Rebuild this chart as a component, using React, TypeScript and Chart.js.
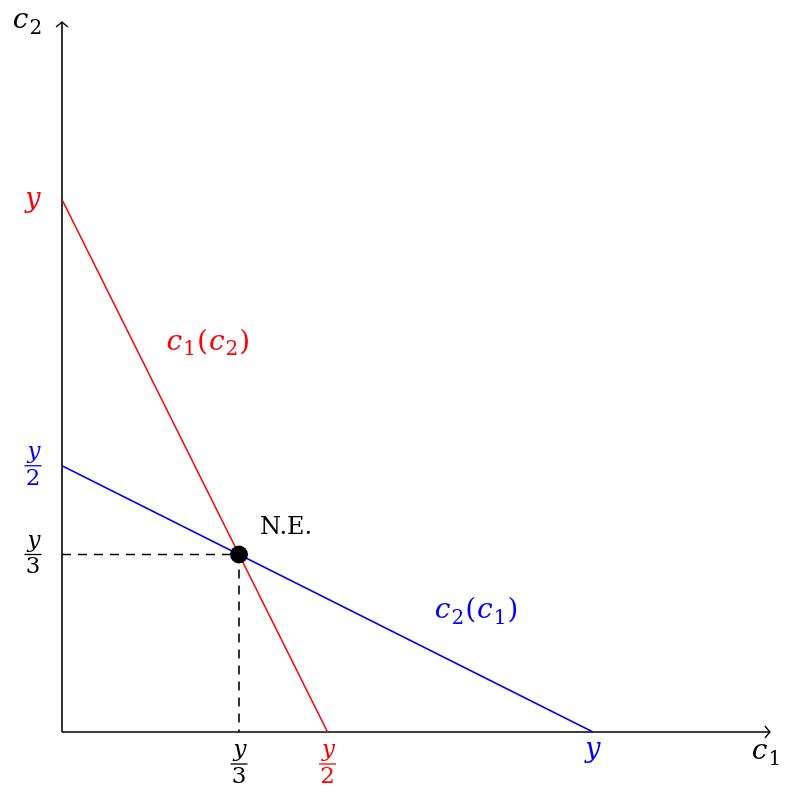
import React, { useEffect, useRef } from "react";
import { Chart, registerables } from "chart.js";

Chart.register(...registerables);

// Values (y = 6 units)
const AXIS_MAX = 8;
const bestResp1X = [0, 3]; // c1(c2): from (0,y) to (y/2,0)
const bestResp1Y = [6, 0];
const bestResp2X = [0, 6]; // c2(c1): from (0,y/2) to (y,0)
const bestResp2Y = [3, 0];
const neX = [2];
const neY = [2];

const RED = "#ff0000";
const BLUE = "#0000ff";
const BLACK = "#000000";

const xTickValues = [2, 3, 6];
const xTickLabels = [["y", "3"], ["y", "2"], ["y"]];
const xTickColors = [BLACK, RED, BLUE];
const yTickValues = [6, 3, 2];
const yTickLabels = [["y"], ["y", "2"], ["y", "3"]];
const yTickColors = [RED, BLUE, BLACK];

const FONT = '"DejaVu Serif", serif';

type Part = { t: string; it?: boolean; sub?: boolean };

function fontFor(p: Part, size: number) {
  return `${p.it ? "italic " : ""}${p.sub ? Math.round(size * 0.72) : size}px ${FONT}`;
}

function measureParts(ctx: CanvasRenderingContext2D, parts: Part[], size: number) {
  let w = 0;
  for (const p of parts) {
    ctx.font = fontFor(p, size);
    w += ctx.measureText(p.t).width + 1;
  }
  return w;
}

function drawParts(ctx: CanvasRenderingContext2D, parts: Part[], cx: number, baseline: number, size: number, color: string) {
  const w = measureParts(ctx, parts, size);
  let x = cx - w / 2;
  ctx.fillStyle = color;
  ctx.textAlign = "left";
  ctx.textBaseline = "alphabetic";
  for (const p of parts) {
    ctx.font = fontFor(p, size);
    ctx.fillText(p.t, x, baseline + (p.sub ? size * 0.2 : 0));
    x += ctx.measureText(p.t).width + 1;
  }
}

function drawFraction(ctx: CanvasRenderingContext2D, num: string, den: string, cx: number, barY: number, size: number, color: string) {
  ctx.fillStyle = color;
  ctx.strokeStyle = color;
  ctx.textAlign = "center";
  ctx.textBaseline = "alphabetic";
  ctx.font = `italic ${size}px ${FONT}`;
  ctx.fillText(num, cx + 1, barY - 8);
  ctx.font = `${size}px ${FONT}`;
  ctx.fillText(den, cx, barY + size * 0.82);
  ctx.lineWidth = 1.3;
  ctx.beginPath();
  ctx.moveTo(cx - 8.5, barY);
  ctx.lineTo(cx + 8.5, barY);
  ctx.stroke();
}

function drawTickLabel(ctx: CanvasRenderingContext2D, lab: string[], cx: number, cy: number, color: string) {
  if (lab.length === 2) {
    drawFraction(ctx, lab[0], lab[1], cx, cy, 23, color);
  } else {
    ctx.fillStyle = color;
    ctx.textAlign = "center";
    ctx.textBaseline = "middle";
    ctx.font = `italic 27px ${FONT}`;
    ctx.fillText(lab[0], cx, cy);
  }
}

const overlayPlugin = {
  id: "overlay",
  beforeDatasetsDraw(chart: any) {
    const ctx: CanvasRenderingContext2D = chart.ctx;
    const xs = chart.scales.x;
    const ys = chart.scales.y;
    const x0 = xs.getPixelForValue(0);
    const y0 = ys.getPixelForValue(0);
    const xEnd = xs.getPixelForValue(AXIS_MAX);
    const yEnd = ys.getPixelForValue(AXIS_MAX);
    ctx.save();
    ctx.strokeStyle = BLACK;
    ctx.lineWidth = 1.6;
    ctx.beginPath();
    ctx.moveTo(x0, y0);
    ctx.lineTo(xEnd, y0);
    ctx.moveTo(x0, y0);
    ctx.lineTo(x0, yEnd);
    ctx.stroke();
    ctx.lineWidth = 1.3;
    ctx.beginPath();
    ctx.moveTo(xEnd - 5, y0 - 6);
    ctx.quadraticCurveTo(xEnd - 2, y0 - 2, xEnd, y0);
    ctx.quadraticCurveTo(xEnd - 2, y0 + 2, xEnd - 5, y0 + 6);
    ctx.moveTo(x0 - 6, yEnd + 5);
    ctx.quadraticCurveTo(x0 - 2, yEnd + 2, x0, yEnd);
    ctx.quadraticCurveTo(x0 + 2, yEnd + 2, x0 + 6, yEnd + 5);
    ctx.stroke();
    ctx.restore();
  },
  afterDraw(chart: any) {
    const ctx: CanvasRenderingContext2D = chart.ctx;
    const xs = chart.scales.x;
    const ys = chart.scales.y;
    const x0 = xs.getPixelForValue(0);
    const y0 = ys.getPixelForValue(0);
    ctx.save();
    xTickValues.forEach((v, i) => {
      const px = xs.getPixelForValue(v);
      const lab = xTickLabels[i];
      drawTickLabel(ctx, lab, px, lab.length === 2 ? y0 + 32 : y0 + 18, xTickColors[i]);
    });
    yTickValues.forEach((v, i) => {
      const py = ys.getPixelForValue(v);
      drawTickLabel(ctx, yTickLabels[i], x0 - 29, py, yTickColors[i]);
    });
    // axis titles
    drawParts(ctx, [{ t: "c", it: true }, { t: "1", sub: true }], xs.getPixelForValue(AXIS_MAX) - 3, y0 + 27, 28, BLACK);
    drawParts(ctx, [{ t: "c", it: true }, { t: "2", sub: true }], x0 - 34, ys.getPixelForValue(AXIS_MAX) + 6, 28, BLACK);
    // curve labels
    drawParts(
      ctx,
      [{ t: "c", it: true }, { t: "1", sub: true }, { t: "(" }, { t: "c", it: true }, { t: "2", sub: true }, { t: ")" }],
      xs.getPixelForValue(1.66),
      ys.getPixelForValue(4.4) + 8,
      28,
      RED
    );
    drawParts(
      ctx,
      [{ t: "c", it: true }, { t: "2", sub: true }, { t: "(" }, { t: "c", it: true }, { t: "1", sub: true }, { t: ")" }],
      xs.getPixelForValue(4.69),
      ys.getPixelForValue(1.37) + 8,
      28,
      BLUE
    );
    ctx.fillStyle = BLACK;
    ctx.font = `24px ${FONT}`;
    ctx.textAlign = "left";
    ctx.textBaseline = "alphabetic";
    ctx.fillText("N.E.", xs.getPixelForValue(neX[0]) + 21, ys.getPixelForValue(neY[0]) - 21);
    ctx.restore();
  },
};

export default function App() {
  const ref = useRef<HTMLCanvasElement>(null);
  useEffect(() => {
    if (!ref.current) return;
    const toPts = (xs: number[], ys: number[]) => xs.map((x, i) => ({ x, y: ys[i] }));
    const chart = new Chart(ref.current, {
      type: "scatter",
      data: {
        datasets: [
          {
            data: toPts(neX, neY),
            showLine: false,
            pointRadius: 9,
            pointBorderWidth: 0,
            pointBackgroundColor: BLACK,
            pointBorderColor: BLACK,
            clip: false,
          } as any,
          {
            data: toPts(bestResp1X, bestResp1Y),
            showLine: true,
            borderColor: RED,
            borderWidth: 1.6,
            pointRadius: 0,
            clip: false,
          },
          {
            data: toPts(bestResp2X, bestResp2Y),
            showLine: true,
            borderColor: BLUE,
            borderWidth: 1.6,
            pointRadius: 0,
            clip: false,
          },
          {
            data: [{ x: 0, y: neY[0] }, { x: neX[0], y: neY[0] }, { x: neX[0], y: 0 }],
            showLine: true,
            borderColor: BLACK,
            borderWidth: 1.6,
            borderDash: [9, 7],
            pointRadius: 0,
            clip: false,
          },
        ],
      },
      options: {
        responsive: false,
        animation: false,
        layout: { padding: { left: 62, top: 22, right: 30, bottom: 68 } },
        plugins: { legend: { display: false }, tooltip: { enabled: false } },
        scales: {
          x: { type: "linear", min: 0, max: AXIS_MAX, display: false },
          y: { type: "linear", min: 0, max: AXIS_MAX, display: false },
        },
      },
      plugins: [overlayPlugin],
    });
    return () => chart.destroy();
  }, []);
  return (
    <div style={{ position: "absolute", left: 0, top: 0, width: 800, height: 800, background: "#fff" }}>
      <canvas ref={ref} width={800} height={800} />
    </div>
  );
}
